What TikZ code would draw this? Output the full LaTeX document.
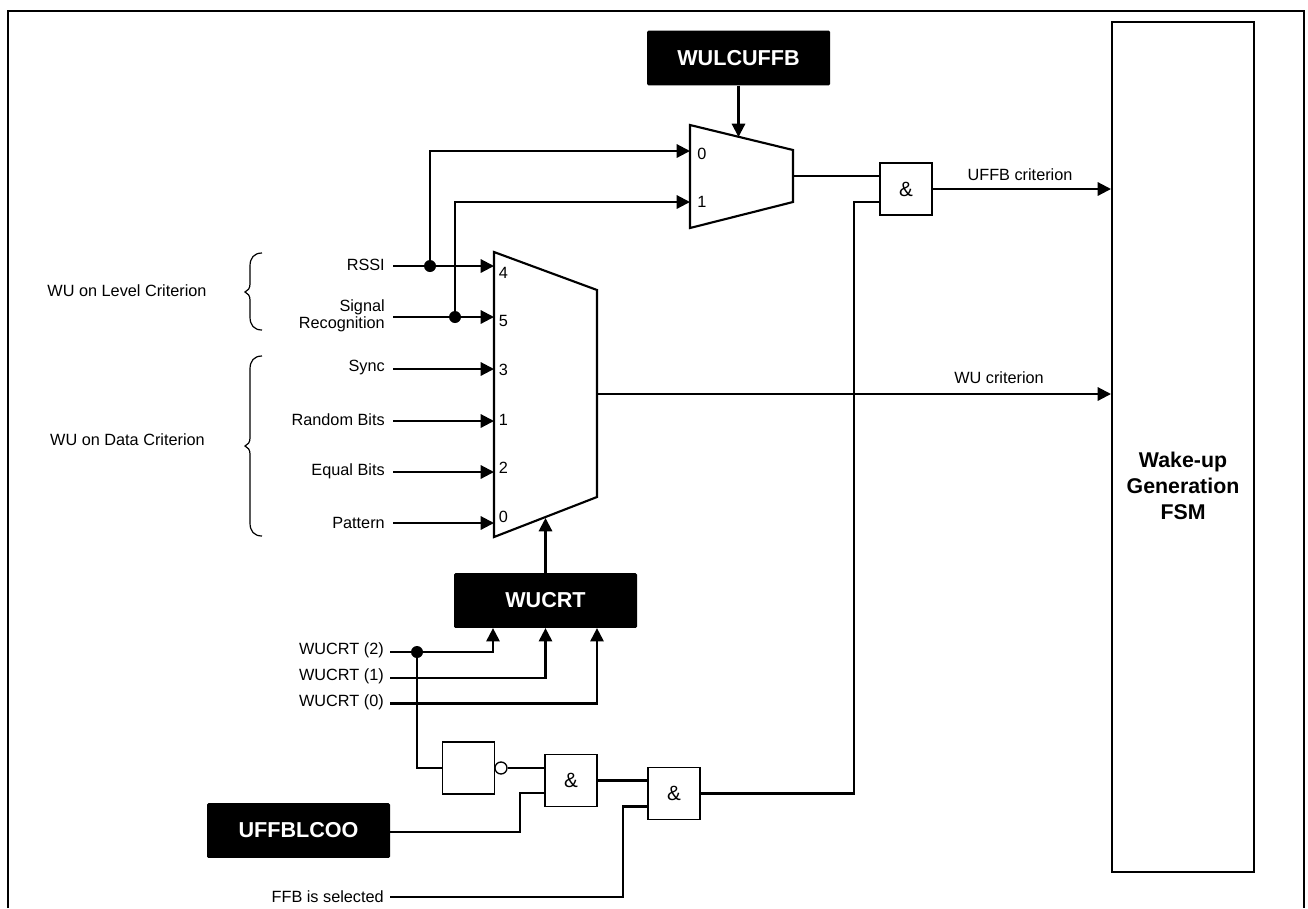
\documentclass[tikz,border=0pt]{standalone}
\usepackage{fontspec}
\setmainfont{Liberation Sans}
\usetikzlibrary{arrows.meta,calc}
\tikzset{
  x=0.75pt,y=-0.75pt,
  frameline/.style={line width=1.5pt,line join=miter},
  sig/.style={line width=1.6pt,line join=miter},
  sigarrow/.style={sig,-{Triangle[length=10pt,width=10pt]}},
  muxshape/.style={line width=1.6pt,line join=miter},
  regbox/.style={fill=black,rounded corners=1pt,text=white,inner sep=0pt,minimum width=137.25pt,minimum height=41pt,font=\fontsize{16.2}{19}\selectfont\bfseries},
  gatebox/.style={draw,line width=1pt,fill=white,inner sep=0pt,minimum width=39pt,minimum height=39pt,font=\fontsize{15.5}{18}\selectfont},
  fsmbox/.style={draw,line width=1.5pt,fill=white,inner sep=0pt,minimum width=106.5pt,minimum height=637.5pt},
  fsmtext/.style={inner sep=0pt,align=center,font=\fontsize{16}{19.5}\selectfont\bfseries},
  lbl/.style={inner sep=0pt,font=\fontsize{12.2}{12.8}\selectfont},
  lblr/.style={lbl,anchor=east,align=right},
  pin/.style={lbl,font=\fontsize{12.2}{14}\selectfont},
  dot/.style={circle,fill=black,inner sep=0pt,minimum size=9pt},
  bubble/.style={circle,draw,line width=1pt,fill=white,inner sep=0pt,minimum size=9pt},
  bracel/.style={line width=0.9pt},
}
\begin{document}
\begin{tikzpicture}
\useasboundingbox (0,0) rectangle (1308,908);
\fill[white] (0,0) rectangle (1308,908);
\draw[frameline] (8,908) -- (8,11) -- (1304,11) -- (1304,908);

% blocks
\node[fsmbox] (fsm) at (1183,447) {};
\node[fsmtext] (fsmt) at (1183,485.5) {Wake-up\\Generation\\FSM};
\node[regbox] (wulcuffb) at (738.5,58) {WULCUFFB};
\node[regbox] (wucrt) at (545.5,600.5) {WUCRT};
\node[regbox] (uffblcoo) at (298.5,830.5) {\raisebox{1.2pt}{UFFBLCOO}};

% muxes
\coordinate (m1tl) at (690,125);
\coordinate (m1tr) at (793,150);
\coordinate (m1br) at (793,202);
\coordinate (m1bl) at (690,228);
\coordinate (m2tl) at (494,252);
\coordinate (m2tr) at (597,290);
\coordinate (m2br) at (597,497);
\coordinate (m2bl) at (494,537);
\coordinate (m1in0) at (690,151);
\coordinate (m1in1) at (690,202);
\coordinate (m1ctl) at (738.5,137);
\coordinate (m1out) at (793,176);
\coordinate (m2out) at (597,394);
\coordinate (m2ctl) at (545.5,518);

% gates
\node[gatebox] (and1) at (906,189) {\&};
\node[gatebox] (inv) at (468.5,768) {};
\node[bubble] (bub) at (501,768) {};
\node[gatebox] (and2) at (571,780.5) {\&};
\node[gatebox] (and3) at (674,793.5) {\&};

% input labels
\node[lblr] (rssi) at (385,264.5) {RSSI};
\node[lblr] (sigrec) at (385,316) {Signal\\Recognition};
\node[lblr] (sync) at (385,367.5) {Sync};
\node[lblr] (rnd) at (385,419.5) {Random Bits};
\node[lblr] (eq) at (385,471.5) {Equal Bits};
\node[lblr] (pat) at (385,522.5) {Pattern};
\node[lblr] (w2) at (384,650.5) {WUCRT (2)};
\node[lblr] (w1) at (384,676.5) {WUCRT (1)};
\node[lblr] (w0) at (384,702.5) {WUCRT (0)};
\node[lblr] (ffb) at (384,896.5) {FFB is selected};
\node[lbl] (lvl) at (127,291) {WU on Level Criterion};
\node[lbl] (dat) at (127.5,440) {WU on Data Criterion};
\node[lbl] (uffbc) at (1020,175) {UFFB criterion};
\node[lbl] (wuc) at (999,378) {WU criterion};

% wire starts
\coordinate (srssi) at (393,266);
\coordinate (ssig) at (393,317);
\coordinate (ssync) at (393,369);
\coordinate (srnd) at (393,421);
\coordinate (seq) at (393,472);
\coordinate (spat) at (393,523);
\coordinate (sw2) at (390,652);
\coordinate (sw1) at (390,678);
\coordinate (sw0) at (390,703.5);
\coordinate (sffb) at (390,897);
\coordinate (jr) at (430,266);
\coordinate (js) at (455,317);
\coordinate (jw) at (417,652);

% connectors
\draw[sigarrow] (srssi) -- (srssi -| m2tl);
\draw[sigarrow] (ssig) -- (ssig -| m2tl);
\draw[sigarrow] (ssync) -- (ssync -| m2tl);
\draw[sigarrow] (srnd) -- (srnd -| m2tl);
\draw[sigarrow] (seq) -- (seq -| m2tl);
\draw[sigarrow] (spat) -- (spat -| m2tl);
\draw[sigarrow] (jr) |- (m1in0);
\draw[sigarrow] (js) |- (m1in1);
\draw[sigarrow] (wulcuffb.south) -- (m1ctl);
\draw[sigarrow] (wucrt.north) -- (m2ctl);
\draw[sig] (m1out) -- (m1out -| and1.west);
\draw[sigarrow] (and1.east) -- (and1.east -| fsm.west);
\draw[sigarrow] (m2out) -- (m2out -| fsm.west);
\coordinate (a1in2) at ($(and1.west)+(0,13)$);
\coordinate (a3out) at (and3.east);
\draw[sig] (a3out) -| (854,202) -- (a1in2);
\draw[sigarrow] (sw2) -| ($(wucrt.south)+(-52.5,0)$);
\draw[sigarrow] (sw1) -| (wucrt.south);
\draw[sigarrow] (sw0) -| ($(wucrt.south)+(51.5,0)$);
\draw[sig] (jw) |- (inv.west);
\draw[sig] (bub.east) -- (bub.east -| and2.west);
\coordinate (a2in2) at ($(and2.west)+(0,12.5)$);
\coordinate (a3in1) at ($(and3.west)+(0,-13)$);
\coordinate (a3in2) at ($(and3.west)+(0,13)$);
\draw[sig] ($(uffblcoo.east)+(0,1.5)$) -| (520,793) -- (a2in2);
\draw[sig] (and2.east) -- (a3in1);
\draw[sig] (sffb) -| (623,806.5) -- (a3in2);

% junction dots
\node[dot] (d1) at (jr) {};
\node[dot] (d2) at (js) {};
\node[dot] (d3) at (jw) {};

% mux bodies
\draw[muxshape] (m1tl) -- (m1tr) -- (m1br) -- (m1bl) -- cycle;
\draw[muxshape] (m2tl) -- (m2tr) -- (m2br) -- (m2bl) -- cycle;

% mux pin labels
\node[pin] (p10) at (702,154) {0};
\node[pin] (p11) at (702,202) {1};
\node[pin] (p4) at (503.5,273) {4};
\node[pin] (p5) at (503.5,321) {5};
\node[pin] (p3) at (503.5,370) {3};
\node[pin] (p1) at (503.5,420) {1};
\node[pin] (p2) at (503.5,468) {2};
\node[pin] (p0) at (503.5,517) {0};

% braces
\draw[bracel] (262,253) .. controls (254,253) and (250,258) .. (250,266) -- (250,284) .. controls (250,288) and (248,291) .. (245,292) .. controls (248,293) and (250,296) .. (250,300) -- (250,317) .. controls (250,325) and (254,330) .. (262,330);
\draw[bracel] (262,356) .. controls (254,356) and (250,361) .. (250,369) -- (250,438) .. controls (250,442) and (248,445) .. (245,446) .. controls (248,447) and (250,450) .. (250,454) -- (250,523) .. controls (250,531) and (254,536) .. (262,536);
\end{tikzpicture}
\end{document}
